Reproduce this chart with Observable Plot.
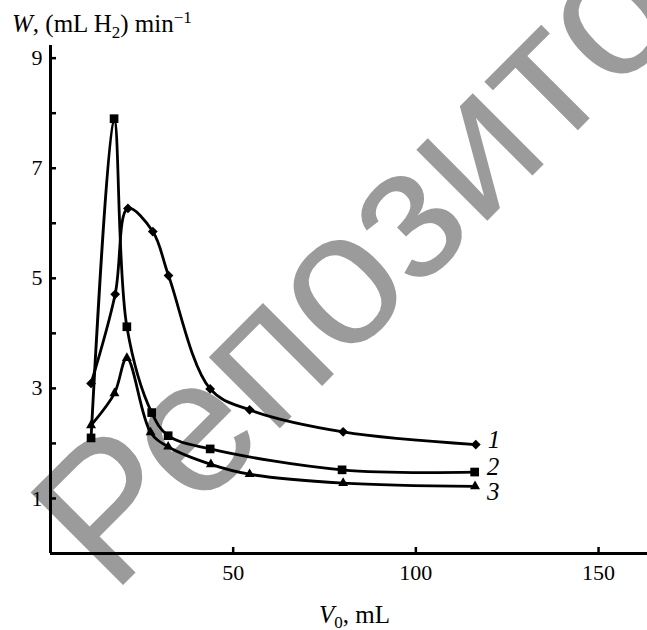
<!DOCTYPE html>
<html><head><meta charset="utf-8">
<script src="https://cdn.jsdelivr.net/npm/d3@7"></script>
<script src="https://cdn.jsdelivr.net/npm/@observablehq/plot@0.6"></script>
<style>body{margin:0;background:#fff} svg{display:block}</style>
</head><body><div id="chart"></div>
<script>
// ---- data ----
const seriesNames = ["1", "2", "3"];
const V0_1 = [11.1, 17.7, 21.2, 28.0, 32.3, 43.7, 54.5, 80.1, 116.4];
const W_1  = [3.09, 4.71, 6.27, 5.85, 5.05, 2.99, 2.61, 2.21, 1.98];
const V0_2 = [11.1, 17.4, 20.9, 27.7, 32.2, 43.7, 79.8, 116.1];
const W_2  = [2.10, 7.90, 4.12, 2.56, 2.14, 1.90, 1.52, 1.48];
const V0_3 = [11.1, 17.5, 20.9, 27.4, 32.2, 43.9, 54.5, 80.1, 116.2];
const W_3  = [2.33, 2.91, 3.55, 2.20, 1.94, 1.62, 1.44, 1.28, 1.22];
const xTicks = [50, 100, 150];
const yTicks = [1, 3, 5, 7, 9];
const yMinorTicks = [1, 2, 3, 4, 5, 6, 7, 8, 9];
const watermark = "Репозиторий";

const toRows = (xs, ys, s) => xs.map((v, i) => ({V0: v, W: ys[i], series: s}));
const s1 = toRows(V0_1, W_1, seriesNames[0]);
const s2 = toRows(V0_2, W_2, seriesNames[1]);
const s3 = toRows(V0_3, W_3, seriesNames[2]);
const all = [...s1, ...s2, ...s3];
const ends = [s1.at(-1), s2.at(-1), s3.at(-1)];
const labelDy = [-5, -5, 6];

const W = 647, H = 630, mL = 50, mR = 0, mT = 45, mB = 77;
const xDomain = [0, 163.4], yDomain = [0, 9.23];
const pxX = (W - mL - mR) / (xDomain[1] - xDomain[0]);
const pxY = (H - mT - mB) / (yDomain[1] - yDomain[0]);
const tickPx = 6;
const serif = "Liberation Serif, Times New Roman, serif";

const plot = Plot.plot({
  width: W, height: H,
  marginLeft: mL, marginRight: mR, marginTop: mT, marginBottom: mB,
  style: {fontFamily: serif, fontSize: "22px", color: "#000", background: "#fff", overflow: "visible"},
  x: {domain: xDomain},
  y: {domain: yDomain},
  marks: [
    Plot.axisX({ticks: xTicks, tickSize: 0, tickPadding: 11, label: null, fontSize: 22, fontFamily: serif, fill: "#000"}),
    Plot.axisY({ticks: yTicks, tickSize: 0, tickPadding: 8, label: null, fontSize: 22, fontFamily: serif, fill: "#000"}),
    Plot.ruleX(xTicks, {y1: 0, y2: tickPx / pxY, stroke: "#000", strokeWidth: 2.5}),
    Plot.ruleY(yMinorTicks, {x1: 0, x2: tickPx / pxX, stroke: "#000", strokeWidth: 2.5}),
    Plot.ruleX([0], {stroke: "#000", strokeWidth: 3}),
    Plot.ruleY([0], {stroke: "#000", strokeWidth: 3}),
    Plot.line(all, {x: "V0", y: "W", z: "series", curve: "catmull-rom", stroke: "#000", strokeWidth: 2.8}),
    Plot.dot(s1, {x: "V0", y: "W", symbol: "diamond2", fill: "#000", stroke: "none", r: 4.4}),
    Plot.dot(s2, {x: "V0", y: "W", symbol: "square", fill: "#000", stroke: "none", r: 4.9}),
    Plot.dot(s3, {x: "V0", y: "W", symbol: "triangle", fill: "#000", stroke: "none", r: 3.7}),
    ...ends.map((e, i) => Plot.text([e], {x: "V0", y: "W", text: "series", dx: 12, dy: labelDy[i], textAnchor: "start",
      fontStyle: "italic", fontSize: 25, fontFamily: serif, fill: "#000"}))
  ]
});

document.getElementById("chart").appendChild(plot);
const svg = d3.select(plot);

// watermark under everything
svg.insert("text", ":first-child")
  .attr("transform", "translate(112,596) rotate(-45)")
  .attr("text-anchor", "start")
  .attr("font-family", "Liberation Sans, Arial, sans-serif")
  .attr("font-size", 190)
  .attr("fill", "#9b9b9b")
  .text(watermark);

// axis titles with italic letters, subscripts and superscripts
const yTitle = svg.append("text").attr("x", 12).attr("y", 32).attr("text-anchor", "start")
  .attr("font-family", serif).attr("font-size", 25).attr("fill", "#000");
yTitle.append("tspan").attr("font-style", "italic").text("W");
yTitle.append("tspan").text(", (mL H");
yTitle.append("tspan").attr("font-size", 17).attr("dy", 6).text("2");
yTitle.append("tspan").attr("dy", -6).text(") min");
yTitle.append("tspan").attr("font-size", 17).attr("dy", -9).text("\u22121");

const xTitle = svg.append("text").attr("x", 319).attr("y", 623).attr("text-anchor", "start")
  .attr("font-family", serif).attr("font-size", 25).attr("fill", "#000");
xTitle.append("tspan").attr("font-style", "italic").text("V");
xTitle.append("tspan").attr("font-size", 17).attr("dy", 5).text("0");
xTitle.append("tspan").attr("dy", -5).text(", mL");
</script>
</body></html>
